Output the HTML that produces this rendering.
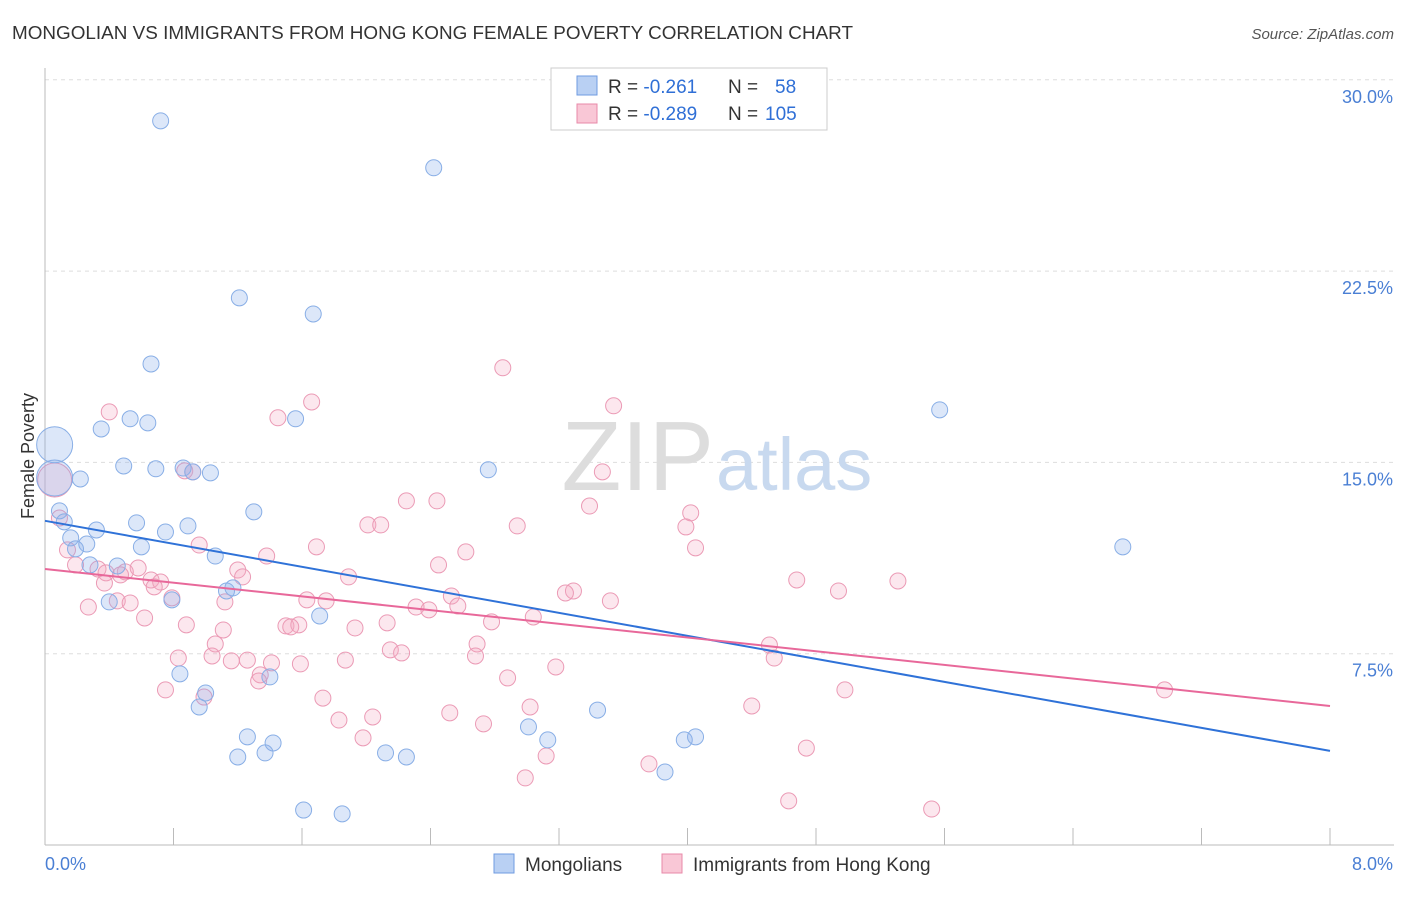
<!DOCTYPE html>
<html><head><meta charset="utf-8"><style>
body{margin:0;background:#fff;font-family:"Liberation Sans",sans-serif}
svg text{font-family:"Liberation Sans",sans-serif}
</style></head><body>
<svg id="chart" width="1406" height="892" viewBox="0 0 1406 892">
<text x="12" y="39" font-size="18" fill="#333" textLength="841" lengthAdjust="spacingAndGlyphs">MONGOLIAN VS IMMIGRANTS FROM HONG KONG FEMALE POVERTY CORRELATION CHART</text>
<text x="1394" y="39" font-size="15" fill="#555" font-style="italic" text-anchor="end">Source: ZipAtlas.com</text>
<g id="grid"></g>
<g id="axes"></g>
<text x="714" y="490" font-size="98" fill="#ddd" text-anchor="end" font-family="Liberation Serif">ZIP</text>
<text x="716" y="490" font-size="74" fill="#c8d9ef">atlas</text>
<g id="pts"></g>
<g id="lines"></g>
<text x="0" y="0" transform="translate(34,456) rotate(-90)" font-size="18" fill="#333" text-anchor="middle">Female Poverty</text>
<text x="45" y="870" font-size="18" fill="#4a7fd4">0.0%</text>
<text x="1393" y="870" font-size="18" fill="#4a7fd4" text-anchor="end">8.0%</text>
<g>
<rect x="551" y="68" width="276" height="62" fill="#fff" stroke="#ccc"/>
<rect x="577" y="76" width="20" height="19" fill="#b9d0f3" stroke="#6f9be0"/>
<rect x="577" y="104" width="20" height="19" fill="#f9c7d6" stroke="#e88aa8"/>
<text x="608" y="93" font-size="19" fill="#333">R = <tspan fill="#2f6fd6">-0.261</tspan><tspan x="728">N = </tspan><tspan x="775" fill="#2f6fd6">58</tspan></text>
<text x="608" y="120" font-size="19" fill="#333">R = <tspan fill="#2f6fd6">-0.289</tspan><tspan x="728">N = </tspan><tspan x="765" fill="#2f6fd6">105</tspan></text>
</g>
<g>
<rect x="494" y="854" width="20" height="19" fill="#b9d0f3" stroke="#6f9be0"/>
<text x="525" y="871" font-size="19" fill="#333">Mongolians</text>
<rect x="662" y="854" width="20" height="19" fill="#f9c7d6" stroke="#e88aa8"/>
<text x="693" y="871" font-size="19" fill="#333">Immigrants from Hong Kong</text>
</g>
</svg>
<script>
const yTicks=[7.5,15,22.5,30];
const yTickLabels=["7.5%","15.0%","22.5%","30.0%"];
const xTicks=[0,0.8,1.6,2.4,3.2,4.0,4.8,5.6,6.4,7.2,8.0];
const blueX=[0.72,2.42,1.21,1.67,0.66,5.57,0.35,0.53,0.64,1.56,0.22,0.49,0.69,0.86,0.92,1.03,2.76,1.30,0.09,0.12,0.57,0.89,0.75,0.32,0.16,0.26,0.19,0.60,1.06,6.71,0.45,0.28,1.13,1.17,0.79,0.40,1.71,0.84,1.00,1.40,0.96,3.44,3.01,1.26,1.42,3.13,1.20,1.37,2.12,2.25,3.98,4.05,3.86,1.61,1.85];
const blueY=[28.39,26.55,21.45,20.82,18.86,17.06,16.31,16.71,16.55,16.71,14.35,14.86,14.75,14.78,14.63,14.59,14.71,13.06,13.10,12.67,12.63,12.51,12.27,12.35,12.04,11.80,11.61,11.69,11.33,11.69,10.94,10.98,9.96,10.08,9.61,9.53,8.98,6.71,5.96,6.59,5.41,5.29,4.63,4.24,4.00,4.12,3.45,3.61,3.61,3.45,4.12,4.24,2.86,1.37,1.22];
const blueBigX=[0.06,0.06];
const blueBigY=[15.69,14.39];
const pinkX=[2.85,1.66,1.45,3.54,0.40,3.47,0.87,0.92,2.25,2.44,3.39,4.02,2.94,3.99,2.01,2.09,0.09,4.05,1.69,1.38,0.96,2.62,0.14,2.45,0.19,0.33,0.58,1.20,0.50,1.89,0.38,1.23,0.66,0.72,0.47,0.68,0.37,4.68,5.31,4.94,3.29,3.24,2.53,3.52,1.63,1.75,2.57,2.31,2.39,0.27,0.45,0.53,0.79,1.12,0.62,0.88,3.04,2.78,2.13,1.50,1.58,1.53,1.93,1.11,2.69,1.06,2.15,2.22,4.51,1.04,1.26,0.83,1.41,1.59,1.16,1.87,2.68,3.18,4.54,1.34,2.88,1.33,0.75,0.99,1.73,4.98,6.97,4.40,3.02,2.52,2.04,1.83,2.73,1.98,4.74,3.12,3.76,2.99,4.63,5.52];
const pinkY=[18.71,17.37,16.75,17.22,16.98,14.63,14.67,14.63,13.49,13.49,13.29,13.02,12.51,12.47,12.55,12.55,12.82,11.65,11.69,11.33,11.76,11.49,11.57,10.98,10.98,10.82,10.86,10.78,10.71,10.51,10.67,10.51,10.39,10.31,10.59,10.12,10.27,10.39,10.35,9.96,9.96,9.88,9.76,9.57,9.61,9.57,9.37,9.33,9.22,9.33,9.57,9.49,9.69,9.53,8.90,8.63,8.94,8.75,8.71,8.59,8.63,8.55,8.51,8.43,7.88,7.88,7.65,7.53,7.84,7.41,7.25,7.33,7.14,7.10,7.22,7.25,7.41,6.98,7.33,6.67,6.55,6.43,6.08,5.80,5.76,6.08,6.08,5.45,5.41,5.18,5.02,4.90,4.75,4.20,3.80,3.49,3.18,2.63,1.73,1.41];
const pinkBigX=[0.06];
const pinkBigY=[14.31];
const blueTrend=[12.71,3.69];
const pinkTrend=[10.82,5.45];
const trendX=[0,8];

const NS="http://www.w3.org/2000/svg";
const X0=45,X1=1330,Y0=845,YS=191.3/7.5;
function sx(v){return X0+(X1-X0)*v/8;}
function sy(v){return Y0-v*YS;}
function mk(tag,attrs,parent){const e=document.createElementNS(NS,tag);for(const k in attrs)e.setAttribute(k,attrs[k]);document.getElementById(parent).appendChild(e);return e;}

yTicks.forEach((t,i)=>{
  const l=mk('line',{x1:X0,x2:1394,y1:sy(t),y2:sy(t),stroke:'#ddd','stroke-dasharray':'4,4'},'grid');
  
  
  const tx=mk('text',{x:1393,y:sy(t)+23,'font-size':18,fill:'#4a7fd4','text-anchor':'end'},'grid');
  tx.textContent=yTickLabels[i];
  
  
});
const ax=mk('line',{x1:X0,x2:X0,y1:68,y2:Y0,stroke:'#bbb'},'axes');


const bx=mk('line',{x1:X0,x2:1394,y1:Y0,y2:Y0,stroke:'#bbb'},'axes');


xTicks.forEach(t=>{
  const l=mk('line',{x1:sx(t),x2:sx(t),y1:Y0,y2:Y0-17,stroke:'#bbb'},'axes');
  
  
});
function pts(xs,ys,r,fill,stroke,name){
  xs.forEach((x,i)=>{
    const c=mk('circle',{cx:sx(x),cy:sy(ys[i]),r:r,fill:fill,stroke:stroke,'stroke-width':1},'pts');
    
    
  });
}
pts(pinkBigX,pinkBigY,17,'rgba(244,170,195,0.3)','#eb9ab5','point-hongkong');
pts(blueBigX,blueBigY,18,'rgba(140,175,235,0.3)','#88aee6','point-mongolian');
pts(pinkX,pinkY,8,'rgba(244,170,195,0.28)','#eb9ab5','point-hongkong');
pts(blueX,blueY,8,'rgba(140,175,235,0.3)','#88aee6','point-mongolian');
const tb=mk('line',{x1:sx(trendX[0]),y1:sy(blueTrend[0]),x2:sx(trendX[1]),y2:sy(blueTrend[1]),stroke:'#2f72d8','stroke-width':2},'lines');


const tp=mk('line',{x1:sx(trendX[0]),y1:sy(pinkTrend[0]),x2:sx(trendX[1]),y2:sy(pinkTrend[1]),stroke:'#e8689a','stroke-width':2},'lines');


</script>
</body></html>
